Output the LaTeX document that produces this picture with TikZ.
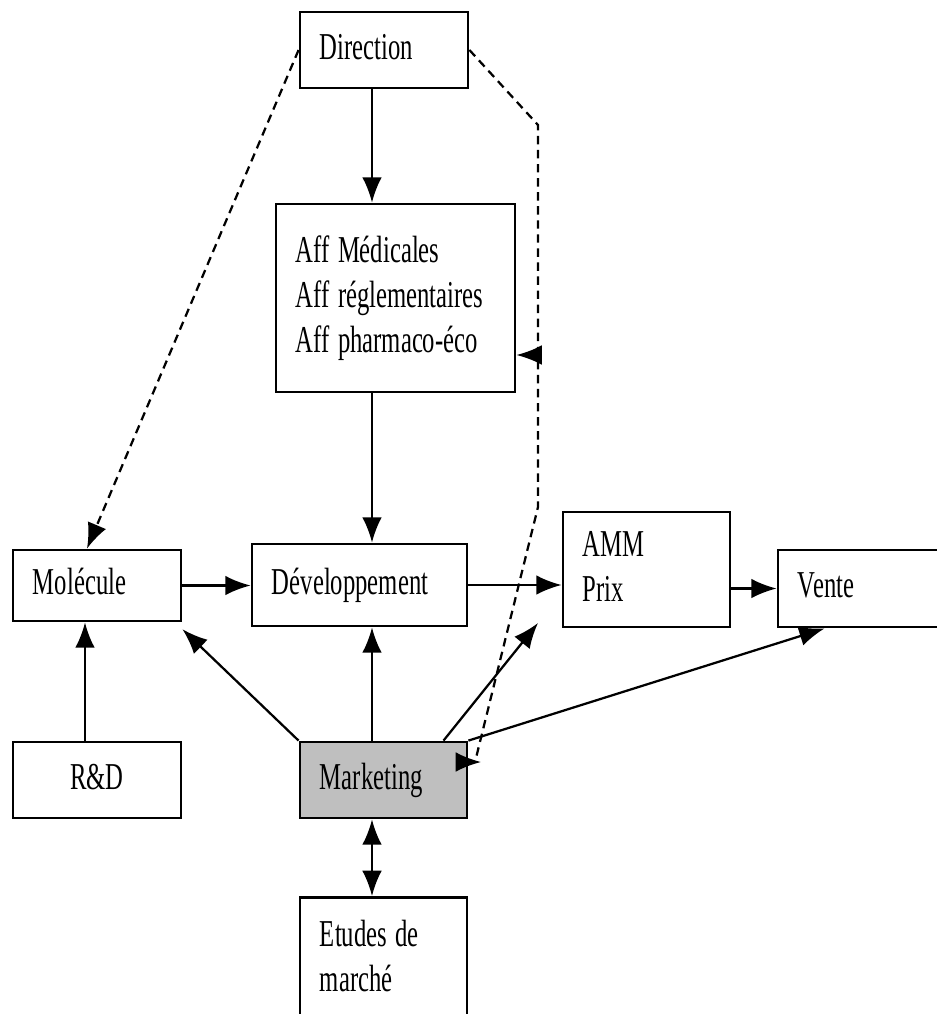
\documentclass[tikz,border=0pt]{standalone}
\usepackage{fontspec}
\usepackage{graphicx}
\setmainfont{Liberation Serif}
\usetikzlibrary{arrows.meta}
\newcommand\narrow[1]{\raisebox{-3pt}{\scalebox{0.65}[1]{\begin{tabular}{@{}l@{}}#1\end{tabular}}}}
\tikzset{box/.style = {draw, line width=2pt, rectangle, inner xsep=0.5cm, inner ysep=0pt,
                       align=left, font=\fontsize{27}{32}\selectfont}}
\tikzset{tip/.tip = {Latex[length=18pt,width=14pt]}}
\tikzset{arr/.style = {-tip, line width=1.6pt}}
\tikzset{dbl/.style = {tip-tip, line width=1.6pt}}
\tikzset{darr/.style = {arr, dash pattern=on 6pt off 4pt}}
\begin{document}
\begin{tikzpicture}[x=0.025cm, y=-0.025cm]
			\useasboundingbox (0, 0) rectangle (936, 1014);
			\node [box, text width=3.2cm, minimum height=1.9cm] (dir) at (384, 50) {\narrow{Direction}};
			\node [box, text width=4.975cm, minimum height=4.7cm] (aff) at (395.5, 298) {\narrow{Aff Médicales\\Aff réglementaires\\Aff pharmaco-éco}};
			\node [box, text width=3.2cm, minimum height=1.775cm] (mol) at (97, 585.5) {\narrow{Molécule}};
			\node [box, text width=4.375cm, minimum height=2.05cm] (dev) at (359.5, 585) {\narrow{Développement}};
			\node [box, text width=3.175cm, minimum height=2.875cm] (amm) at (646.5, 569.5) {\narrow{AMM\\Prix}};
			\node [box, text width=3.2cm, minimum height=1.925cm] (vte) at (862, 588.5) {\narrow{Vente}};
			\node [box, text width=3.2cm, minimum height=1.9cm, align=center] (rd) at (97, 780) {\narrow{R\&D}};
			\node [box, text width=3.175cm, minimum height=1.9cm, fill=black!25] (mkt) at (383.5, 780) {\narrow{Marketing}};
			\node [box, text width=3.175cm, inner ysep=0.45cm, text depth=3.2cm, anchor=north] (etu) at (383.5, 896) {\narrow{Etudes de\\marché}};
			\coordinate (axis) at (372, 0);
			\coordinate (c1) at (538, 125);
			\coordinate (c2) at (538, 507);
			\coordinate (c3) at (475, 762);
			\coordinate (c4) at (481, 762);
			\coordinate (tap) at (538, 355);
			\coordinate (ammlow) at (538, 623);
			\draw [arr] (dir.south -| axis) to (aff.north -| axis);
			\draw [arr] (aff.south -| axis) to (dev.north -| axis);
			\draw [arr] (mol.east) to (mol.east -| dev.west);
			\draw [arr] (dev.east) to (dev.east -| amm.west);
			\draw [arr] (amm.east |- vte.west) to (vte.west);
			\draw [arr] ([xshift=-0.3cm]rd.north) to ([xshift=-0.3cm]mol.south);
			\draw [arr] (mkt.north west) to ([yshift=-0.17cm]mol.south east);
			\draw [arr] (mkt.north -| axis) to (dev.south -| axis);
			\draw [arr] ([xshift=1.5cm]mkt.north) to (ammlow);
			\draw [arr] (mkt.north east) to ([xshift=1.2cm]vte.south west);
			\draw [dbl] (mkt.south -| axis) to (etu.north -| axis);
			\draw [darr] (dir.west) to ([xshift=-0.25cm]mol.north);
			\draw [darr] (dir.east) to (c1) to (c2) to (c3) to (c4);
			\draw [darr] (tap) to (tap -| aff.east);
\end{tikzpicture}
\end{document}
